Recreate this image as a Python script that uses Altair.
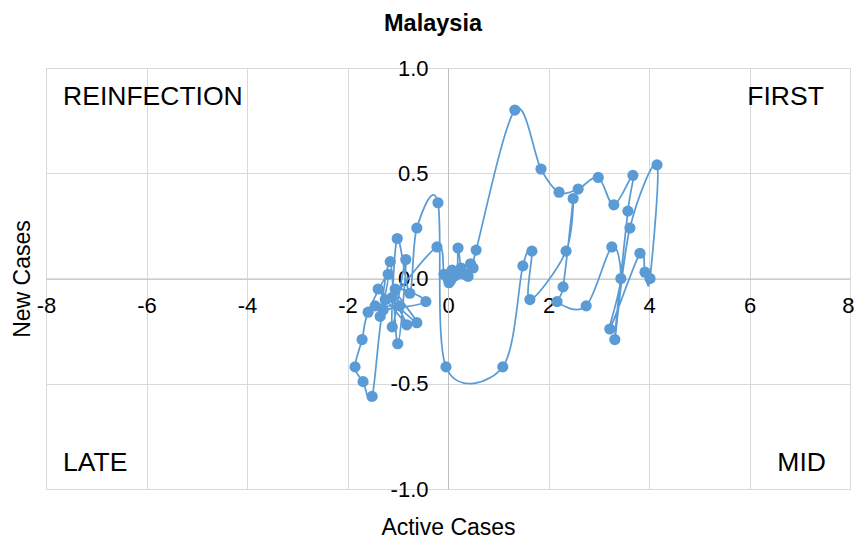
import altair as alt
import pandas as pd

# Trajectory (Active Cases, New Cases), in drawing order
active = [0.00, 0.03, 0.08, 0.12, 0.05, 0.18, 0.20, 0.26, 0.33, 0.45, 0.40, 0.50, 0.56,
          1.33, 1.85, 2.21, 2.59, 2.99, 3.30, 3.68, 3.58, 3.32, 3.62, 4.16, 4.02, 3.92,
          3.82, 3.22, 3.44, 3.26, 2.75, 2.17, 2.29, 2.49, 2.35, 1.63, 1.67, 1.49, 1.09,
          -0.04, -0.20, -0.62, -0.76, -1.01, -1.11, -0.84, -1.00, -1.15, -1.35, -1.19,
          -1.59, -1.71, -1.85, -1.69, -1.51, -1.25, -0.82, -1.39, -0.62, -1.05, -0.44,
          -1.29, -0.96, -1.45, -1.11, -0.22, -0.08, 0.02]
new_cases = [0.00, 0.02, 0.04, 0.01, -0.01, 0.02, 0.145, 0.05, 0.02, 0.07, 0.01, 0.05, 0.135,
             0.80, 0.52, 0.41, 0.425, 0.48, 0.35, 0.49, 0.32, -0.29, 0.24, 0.54, 0.00, 0.03,
             0.12, -0.24, 0.00, 0.15, -0.13, -0.11, -0.04, 0.38, 0.13, -0.10, 0.13, 0.06, -0.42,
             -0.42, 0.36, 0.24, -0.07, 0.19, -0.23, 0.09, -0.31, 0.08, -0.18, 0.02,
             -0.16, -0.29, -0.42, -0.49, -0.56, -0.10, -0.22, -0.05, -0.21, -0.05, -0.11,
             -0.15, -0.13, -0.13, -0.09, 0.15, 0.02, -0.02]

x_ticks = [-8, -6, -4, -2, 0, 2, 4, 6, 8]
y_ticks = [-1.0, -0.5, 0.0, 0.5, 1.0]

left_labels = ["REINFECTION", "LATE"]
left_x = [-7.66, -7.66]
left_y = [0.862, -0.876]
right_labels = ["FIRST", "MID"]
right_x = [7.48, 7.52]
right_y = [0.862, -0.876]

df = pd.DataFrame({"i": list(range(len(active))), "x": active, "y": new_cases})
dl = pd.DataFrame({"t": left_labels, "x": left_x, "y": left_y})
dr = pd.DataFrame({"t": right_labels, "x": right_x, "y": right_y})

FONT = "Liberation Sans"
BLUE = "#5b9bd5"

xscale = alt.Scale(domain=[-8, 8], nice=False, zero=False)
yscale = alt.Scale(domain=[-1, 1], nice=False, zero=False)

xaxis = alt.Axis(values=x_ticks, grid=True, gridColor="#d9d9d9", ticks=False,
                 domainColor="#bfbfbf", offset=-210.5, labelPadding=17,
                 labelFontSize=22, labelFont=FONT, labelColor="#000000",
                 labelFlush=False, labelOverlap=False,
                 labelAlign={"condition": {"test": "datum.value == 8", "value": "right"},
                             "value": "center"},
                 labelOffset={"condition": {"test": "datum.value == 8", "value": 4},
                              "value": 0},
                 labelExpr="replace(format(datum.value, 'd'), '\u2212', '-')",
                 title="Active Cases", titlePadding=200, titleFontSize=23,
                 titleFont=FONT, titleFontWeight="normal", titleColor="#000000")
yaxis = alt.Axis(values=y_ticks, grid=True, gridColor="#d9d9d9", ticks=False,
                 domainColor="#bfbfbf", offset=-402, labelPadding=20,
                 labelFontSize=22, labelFont=FONT, labelColor="#000000",
                 labelFlush=False, labelOverlap=False,
                 labelExpr="replace(format(datum.value, '.1f'), '\u2212', '-')",
                 title="New Cases", titlePadding=356, titleFontSize=23,
                 titleFont=FONT, titleFontWeight="normal", titleColor="#000000")

base = alt.Chart(df)
line = base.mark_line(interpolate="cardinal", tension=0, color=BLUE, strokeWidth=1.75).encode(
    x=alt.X("x:Q", scale=xscale, axis=xaxis),
    y=alt.Y("y:Q", scale=yscale, axis=yaxis),
    order=alt.Order("i:Q"),
)
pts = base.mark_circle(size=125, opacity=1, color=BLUE).encode(
    x=alt.X("x:Q", scale=xscale),
    y=alt.Y("y:Q", scale=yscale),
)
tl = alt.Chart(dl).mark_text(align="left", baseline="middle", fontSize=26.5, font=FONT,
                             color="#000000").encode(
    x=alt.X("x:Q", scale=xscale), y=alt.Y("y:Q", scale=yscale), text="t:N")
tr = alt.Chart(dr).mark_text(align="right", baseline="middle", fontSize=26.5, font=FONT,
                             color="#000000").encode(
    x=alt.X("x:Q", scale=xscale), y=alt.Y("y:Q", scale=yscale), text="t:N")

chart = alt.layer(line, pts, tl, tr).properties(
    width=804, height=421,
    title=alt.TitleParams("Malaysia", fontSize=23.5, fontWeight="bold", font=FONT,
                          color="#000000", anchor="middle", frame="group", dx=-15,
                          offset=22),
    autosize=alt.AutoSizeParams(type="none"),
    padding={"left": 38, "top": 60, "right": 4, "bottom": 51},
).configure_view(stroke="#d9d9d9")

chart.save("out.html", embed_options={"renderer": "svg", "actions": False})
